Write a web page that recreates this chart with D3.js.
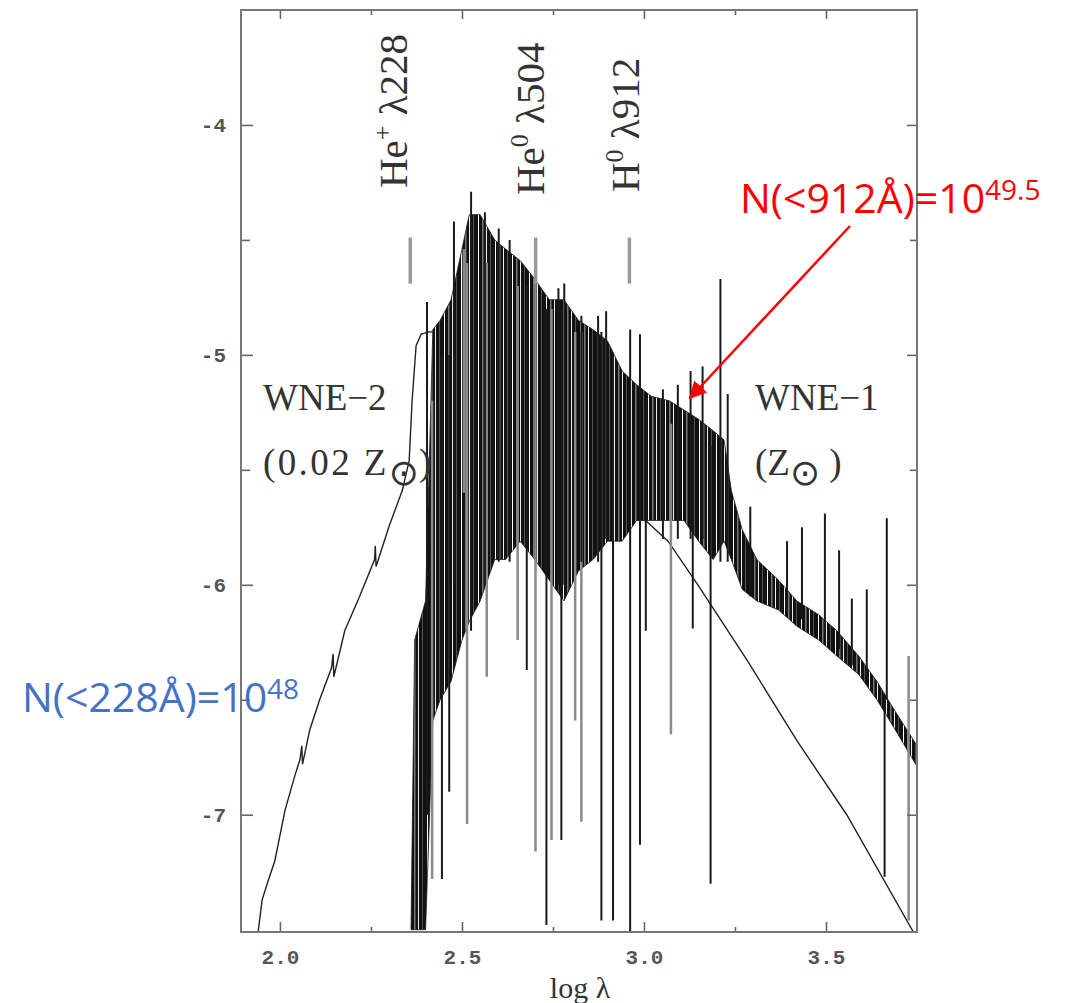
<!DOCTYPE html>
<html>
<head>
<meta charset="utf-8">
<script src="https://cdn.jsdelivr.net/npm/d3@7"></script>
<style>
  body { margin: 0; background: #fff; }
</style>
</head>
<body>
<div id="chart"></div>
<script>
// Spectra of two WNE stars, log flux against log wavelength

// WNE-2 (0.02 Zsun): the smooth thin curve
const wne2Lam  = [1.940, 1.951, 1.967, 1.986, 2.014, 2.041, 2.055, 2.060, 2.062, 2.082, 2.109, 2.142, 2.146, 2.148, 2.178, 2.219, 2.260, 2.262, 2.264, 2.301, 2.336, 2.355, 2.363, 2.374, 2.388, 2.410, 2.464, 2.511, 2.574, 2.642, 2.719, 2.828, 2.929, 3.066, 3.148, 3.284, 3.421, 3.557, 3.740]
const wne2Flux = [-7.51, -7.37, -7.29, -7.20, -6.98, -6.83, -6.76, -6.70, -6.78, -6.63, -6.50, -6.36, -6.30, -6.40, -6.20, -6.05, -5.89, -5.83, -5.92, -5.74, -5.59, -5.46, -5.20, -4.96, -4.91, -4.90, -4.90, -4.91, -4.98, -5.09, -5.21, -5.40, -5.61, -5.81, -6.00, -6.33, -6.68, -7.00, -7.51]

// WNE-1 (Zsun): the dense part of the spectrum, upper and lower edge
const wne1Lam = [2.360, 2.370, 2.400, 2.420, 2.440, 2.470, 2.500, 2.520, 2.550, 2.590, 2.620, 2.660, 2.700, 2.740, 2.780, 2.820, 2.860, 2.900, 2.940, 2.980, 3.020, 3.070, 3.110, 3.150, 3.190, 3.220, 3.240, 3.270, 3.310, 3.370, 3.420, 3.480, 3.530, 3.590, 3.640, 3.690, 3.750]
const wne1Hi  = [-7.50, -6.24, -6.07, -4.89, -4.85, -4.76, -4.54, -4.39, -4.39, -4.50, -4.54, -4.59, -4.67, -4.76, -4.76, -4.85, -4.89, -4.94, -5.07, -5.13, -5.18, -5.20, -5.24, -5.28, -5.33, -5.37, -5.59, -5.76, -5.89, -5.98, -6.07, -6.13, -6.20, -6.31, -6.42, -6.55, -6.70]
const wne1Lo  = [-7.50, -7.50, -7.50, -6.59, -6.50, -6.42, -6.24, -6.16, -6.07, -5.89, -5.89, -5.81, -5.89, -5.98, -6.07, -5.94, -5.89, -5.81, -5.81, -5.72, -5.72, -5.72, -5.72, -5.81, -5.89, -5.81, -5.89, -6.02, -6.07, -6.11, -6.18, -6.24, -6.31, -6.39, -6.50, -6.63, -6.79]

// WNE-1: single dark lines reaching out of the dense part
const darkLam = [2.404, 2.478, 2.525, 2.563, 2.601, 2.631, 2.765, 2.781, 2.828, 2.874, 2.896, 2.962, 2.989, 3.052, 3.093, 3.128, 3.161, 3.210, 3.230, 3.292, 3.393, 3.434, 3.497, 3.536, 3.571, 3.612, 3.667,
                 2.445, 2.465, 2.678, 2.732, 2.773, 2.883, 2.915, 3.005, 3.134, 3.183, 3.661]
const darkTop = [-4.77, -4.42, -4.29, -4.38, -4.45, -4.50, -4.71, -4.69, -4.83, -4.83, -4.81, -4.89, -4.91, -5.15, -5.13, -5.07, -5.05, -4.67, -5.17, -5.66, -5.81, -5.75, -5.69, -5.85, -6.06, -6.02, -5.71,
                 -5.00, -5.00, -4.70, -4.80, -4.80, -4.90, -5.00, -5.20, -5.30, -5.40, -6.50]
const darkBot = [-7.00, -6.00, -6.20, -6.00, -5.90, -5.90, -6.00, -6.00, -5.90, -5.90, -5.80, -7.51, -7.13, -5.80, -5.80, -5.80, -5.80, -5.90, -5.90, -6.05, -6.12, -6.15, -6.20, -6.28, -6.35, -6.40, -6.50,
                 -7.28, -6.90, -6.37, -7.48, -7.11, -7.46, -7.46, -6.20, -6.19, -7.30, -7.27]

// WNE-1: fainter grey lines
const greyLam = [2.418, 2.514, 2.568, 2.653, 2.702, 2.746, 2.811, 2.828, 3.074, 3.727, 2.505]
const greyTop = [-5.20, -4.60, -4.60, -4.70, -4.50, -4.80, -4.90, -4.90, -5.30, -6.31, -4.54]
const greyBot = [-7.28, -7.04, -6.40, -6.24, -7.16, -7.11, -6.59, -7.03, -6.65, -7.46, -5.60]

// ionisation edges
const edgeIon    = ['He', 'He', 'H']
const edgeCharge = ['+', '0', '0']
const edgeWave   = [228, 504, 912]

// axes
const xTicks = [2.0, 2.5, 3.0, 3.5]
const xMinor = [2.25, 2.75, 3.25]
const yTicks = [-4, -5, -6, -7]
const yMinor = [-4.5, -5.5, -6.5]

// photon counts written on the figure
const countText = ['N(<228Å)=10', 'N(<912Å)=10']
const countPower = ['48', '49.5']

const width = 1071
const height = 1003
const plot = { left: 241, right: 917, top: 10, bottom: 932 }

const x = d3.scaleLinear().domain([1.893, 3.75]).range([plot.left, plot.right])
const y = d3.scaleLinear().domain([-3.5, -7.51]).range([plot.top, plot.bottom])

const svg = d3.select('#chart')
  .append('svg')
  .attr('width', width)
  .attr('height', height)
  .style('background', '#fff')

const defs = svg.append('defs')
defs.append('clipPath').attr('id', 'clip')
  .append('rect')
  .attr('x', plot.left).attr('y', plot.top)
  .attr('width', plot.right - plot.left).attr('height', plot.bottom - plot.top)

// vertical streaks so the dense part reads as many lines, not one blob
const streaks = defs.append('pattern')
  .attr('id', 'streaks')
  .attr('patternUnits', 'userSpaceOnUse')
  .attr('width', 17).attr('height', 40)
streaks.append('rect').attr('width', 17).attr('height', 40).attr('fill', '#111')
streaks.append('rect').attr('x', 2).attr('width', 1).attr('height', 40).attr('fill', '#fff')
streaks.append('rect').attr('x', 6).attr('width', 1.5).attr('height', 40).attr('fill', '#777')
streaks.append('rect').attr('x', 10).attr('width', 1).attr('height', 40).attr('fill', '#eee')
streaks.append('rect').attr('x', 14).attr('width', 1).attr('height', 40).attr('fill', '#555')

defs.append('marker')
  .attr('id', 'head')
  .attr('viewBox', '0 0 10 10')
  .attr('refX', 9).attr('refY', 5)
  .attr('markerWidth', 7).attr('markerHeight', 7)
  .attr('markerUnits', 'strokeWidth')
  .attr('orient', 'auto')
  .append('path')
  .attr('d', 'M0,0 L10,5 L0,10 z')
  .attr('fill', '#ff0000')

const g = svg.append('g').attr('clip-path', 'url(#clip)')

// WNE-2 smooth curve
g.append('path')
  .datum(wne2Lam.map((l, i) => [l, wne2Flux[i]]))
  .attr('fill', 'none')
  .attr('stroke', '#222')
  .attr('stroke-width', 1.4)
  .attr('d', d3.line().x(d => x(d[0])).y(d => y(d[1])))

// WNE-1 dense band
g.append('path')
  .datum(wne1Lam.map((l, i) => [l, wne1Hi[i], wne1Lo[i]]))
  .attr('fill', 'url(#streaks)')
  .attr('stroke', '#1a1a1a')
  .attr('stroke-width', 0.8)
  .attr('d', d3.area().x(d => x(d[0])).y0(d => y(d[2])).y1(d => y(d[1])))

// WNE-1 single lines
g.selectAll('line.grey')
  .data(greyLam)
  .enter()
  .append('line')
  .attr('class', 'grey')
  .attr('x1', d => x(d)).attr('x2', d => x(d))
  .attr('y1', (d, i) => y(greyTop[i])).attr('y2', (d, i) => y(greyBot[i]))
  .attr('stroke', '#8a8a8a')
  .attr('stroke-width', 2.5)

g.selectAll('line.dark')
  .data(darkLam)
  .enter()
  .append('line')
  .attr('class', 'dark')
  .attr('x1', d => x(d)).attr('x2', d => x(d))
  .attr('y1', (d, i) => y(darkTop[i])).attr('y2', (d, i) => y(darkBot[i]))
  .attr('stroke', '#1a1a1a')
  .attr('stroke-width', 2)

// edge markers and labels
g.selectAll('line.edge')
  .data(edgeWave)
  .enter()
  .append('line')
  .attr('class', 'edge')
  .attr('x1', d => x(Math.log10(d))).attr('x2', d => x(Math.log10(d)))
  .attr('y1', y(-4.49)).attr('y2', y(-4.69))
  .attr('stroke', '#999')
  .attr('stroke-width', 3.5)

const labelShift = [-3, 8, 10]
const labelFoot = [188, 195, 192]
edgeWave.forEach((w, i) => {
  const t = svg.append('text')
    .attr('transform', `translate(${x(Math.log10(w)) + labelShift[i]},${labelFoot[i]}) rotate(-90)`)
    .attr('font-family', 'Liberation Serif')
    .attr('font-size', 41)
    .attr('fill', '#333')
  t.append('tspan').text(edgeIon[i])
  t.append('tspan').text(edgeCharge[i]).attr('font-size', 26).attr('dy', -16)
  t.append('tspan').text(' λ' + w).attr('dy', 16)
})

// star labels
const serif = 'Liberation Serif'
svg.append('text').attr('x', 263).attr('y', 410).attr('font-family', serif).attr('font-size', 37).attr('fill', '#333').text('WNE−2')
const z2 = svg.append('text').attr('x', 263).attr('y', 475).attr('font-family', serif).attr('font-size', 37).attr('fill', '#333')
z2.append('tspan').text('(0.02 Z').attr('letter-spacing', 2.4)
z2.append('tspan').text('⊙').attr('font-family', 'DejaVu Sans').attr('font-size', 36).attr('dy', 10)
z2.append('tspan').text(')').attr('dy', -10)

svg.append('text').attr('x', 755).attr('y', 410).attr('font-family', serif).attr('font-size', 37).attr('fill', '#333').text('WNE−1')
const z1 = svg.append('text').attr('x', 755).attr('y', 475).attr('font-family', serif).attr('font-size', 37).attr('fill', '#333')
z1.append('tspan').text('(Z')
z1.append('tspan').text('⊙').attr('font-family', 'DejaVu Sans').attr('font-size', 36).attr('dy', 10)
z1.append('tspan').text(' )').attr('dy', -10)

// frame and ticks
const tickStyle = sel => {
  sel.select('.domain').remove()
  sel.selectAll('.tick line').attr('stroke', '#666').attr('stroke-width', 1.6)
  sel.selectAll('.tick text').attr('font-family', 'Liberation Mono').attr('font-size', 21).attr('font-weight', 'bold').attr('fill', '#555')
}

svg.append('g').attr('transform', `translate(0,${plot.bottom})`)
  .call(d3.axisBottom(x).tickValues(xTicks).tickSize(-10).tickPadding(17).tickFormat(d3.format('.1f')))
  .call(tickStyle)
svg.append('g').attr('transform', `translate(0,${plot.bottom})`)
  .call(d3.axisBottom(x).tickValues(xMinor).tickSize(-5).tickFormat(''))
  .call(tickStyle)
svg.append('g').attr('transform', `translate(0,${plot.top})`)
  .call(d3.axisTop(x).tickValues(xTicks).tickSize(-9).tickFormat(''))
  .call(tickStyle)
svg.append('g').attr('transform', `translate(0,${plot.top})`)
  .call(d3.axisTop(x).tickValues(xMinor).tickSize(-5).tickFormat(''))
  .call(tickStyle)
svg.append('g').attr('transform', `translate(${plot.left},0)`)
  .call(d3.axisLeft(y).tickValues(yTicks).tickSize(-12).tickPadding(15).tickFormat(d => String(d)))
  .call(tickStyle)
svg.append('g').attr('transform', `translate(${plot.left},0)`)
  .call(d3.axisLeft(y).tickValues(yMinor).tickSize(-9).tickFormat(''))
  .call(tickStyle)
svg.append('g').attr('transform', `translate(${plot.right},0)`)
  .call(d3.axisRight(y).tickValues(yTicks).tickSize(-10).tickFormat(''))
  .call(tickStyle)
svg.append('g').attr('transform', `translate(${plot.right},0)`)
  .call(d3.axisRight(y).tickValues(yMinor).tickSize(-7).tickFormat(''))
  .call(tickStyle)

svg.append('rect')
  .attr('x', plot.left).attr('y', plot.top)
  .attr('width', plot.right - plot.left).attr('height', plot.bottom - plot.top)
  .attr('fill', 'none')
  .attr('stroke', '#777')
  .attr('stroke-width', 2)

svg.append('text')
  .attr('x', 580).attr('y', 998)
  .attr('text-anchor', 'middle')
  .attr('font-family', serif)
  .attr('font-size', 30)
  .attr('fill', '#333')
  .text('log λ')

// photon count notes
const note = (i, px, py, colour) => {
  const t = svg.append('text')
    .attr('x', px).attr('y', py)
    .attr('font-family', 'Open Sans')
    .attr('font-size', 41)
    .attr('fill', colour)
  t.append('tspan').text(countText[i])
  t.append('tspan').text(countPower[i]).attr('font-size', 28).attr('dy', -13)
}
note(0, 22, 712, '#4472c4')
note(1, 740, 213, '#ff0000')

svg.append('line')
  .attr('x1', 850).attr('y1', 226)
  .attr('x2', 690).attr('y2', 398)
  .attr('stroke', '#ff0000')
  .attr('stroke-width', 2.5)
  .attr('marker-end', 'url(#head)')
</script>
</body>
</html>
